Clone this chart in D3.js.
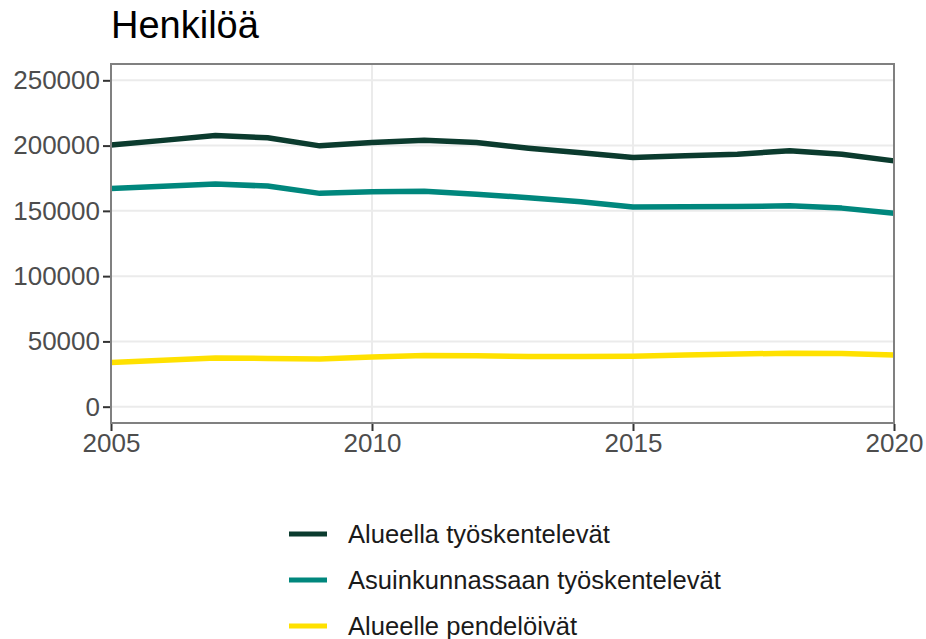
<!DOCTYPE html>
<html>
<head>
<meta charset="utf-8">
<script src="https://cdn.jsdelivr.net/npm/d3@7"></script>
<style>
  body { margin: 0; background: #fff; }
  text { font-family: "Liberation Sans", Arial, sans-serif; }
</style>
</head>
<body>
<svg class="chart"></svg>
<script>
// data
const years = [2005, 2006, 2007, 2008, 2009, 2010, 2011, 2012, 2013, 2014, 2015, 2016, 2017, 2018, 2019, 2020];
const alueellaTyoskentelevat = [200500, 204000, 207700, 206000, 199800, 202300, 204100, 202300, 198000, 194500, 190900, 192200, 193400, 196000, 193400, 188300];
const asuinkunnassaanTyoskentelevat = [167200, 168900, 170500, 169000, 163400, 164600, 165100, 162800, 160000, 157000, 152900, 153100, 153300, 153900, 152100, 148100];
const alueellePendeloivat = [33900, 35500, 37200, 37000, 36500, 38000, 39200, 39000, 38500, 38500, 38600, 39500, 40300, 41000, 40700, 39500];
const seriesNames = ["Alueella työskentelevät", "Asuinkunnassaan työskentelevät", "Alueelle pendelöivät"];
const seriesColors = ["#0b3b2e", "#00877d", "#ffe100"];
const yTicks = [0, 50000, 100000, 150000, 200000, 250000];
const xTicks = [2005, 2010, 2015, 2020];

const width = 926;
const height = 639;

const svg = d3.select('.chart')
  .attr('width', width)
  .attr('height', height);

const margin = {left: 111, right: 32, top: 64, bottom: 216};

const xScale = d3.scaleLinear()
  .domain([2005, 2020])
  .range([margin.left, width - margin.right]);

// ggplot-style 5% expansion around 0..250000
const yScale = d3.scaleLinear()
  .domain([-12500, 262500])
  .range([height - margin.bottom, margin.top]);

const series = [alueellaTyoskentelevat, asuinkunnassaanTyoskentelevat, alueellePendeloivat];

// grid
svg.append('g').selectAll('line').data(yTicks).enter().append('line')
  .attr('x1', margin.left).attr('x2', width - margin.right)
  .attr('y1', d => yScale(d)).attr('y2', d => yScale(d))
  .attr('stroke', '#ebebeb').attr('stroke-width', 2);
svg.append('g').selectAll('line').data(xTicks).enter().append('line')
  .attr('x1', d => xScale(d)).attr('x2', d => xScale(d))
  .attr('y1', margin.top).attr('y2', height - margin.bottom)
  .attr('stroke', '#ebebeb').attr('stroke-width', 2);

// lines
const line = d3.line()
  .x((d, i) => xScale(years[i]))
  .y(d => yScale(d));

svg.append('g').selectAll('path').data(series).enter().append('path')
  .attr('d', d => line(d))
  .attr('fill', 'none')
  .attr('stroke', (d, i) => seriesColors[i])
  .attr('stroke-width', 5.5)
  .attr('stroke-linejoin', 'round');

// panel border
svg.append('rect')
  .attr('x', margin.left).attr('y', margin.top)
  .attr('width', width - margin.left - margin.right)
  .attr('height', height - margin.top - margin.bottom)
  .attr('fill', 'none').attr('stroke', '#808080').attr('stroke-width', 2);

// axes
const yaxis = d3.axisLeft(yScale).tickValues(yTicks).tickFormat(d3.format('d')).tickSize(7).tickPadding(3);
const xaxis = d3.axisBottom(xScale).tickValues(xTicks).tickFormat(d3.format('d')).tickSize(7).tickPadding(3);

const gy = svg.append('g').attr('transform', `translate(${margin.left - 1},0)`).call(yaxis);
const gx = svg.append('g').attr('transform', `translate(0,${height - margin.bottom + 1})`).call(xaxis);
[gy, gx].forEach(g => {
  g.select('.domain').remove();
  g.selectAll('line').attr('stroke', '#333').attr('stroke-width', 2);
  g.selectAll('text').attr('fill', '#4d4d4d').style('font-size', '26px')
    .style('font-family', '"Liberation Sans", Arial, sans-serif');
});

// title
svg.append('text')
  .attr('x', 111).attr('y', 38)
  .style('font-size', '38px')
  .attr('fill', '#000')
  .text('Henkilöä');

// legend
const legend = svg.append('g').selectAll('g').data(seriesNames).enter().append('g')
  .attr('transform', (d, i) => `translate(289,${534 + i * 46})`);
legend.append('line')
  .attr('x1', 0).attr('x2', 38)
  .attr('stroke', (d, i) => seriesColors[i]).attr('stroke-width', 5);
legend.append('text')
  .attr('x', 59).attr('y', 8.5)
  .style('font-size', '25.6px')
  .attr('fill', '#1a1a1a')
  .text(d => d);
</script>
</body>
</html>
